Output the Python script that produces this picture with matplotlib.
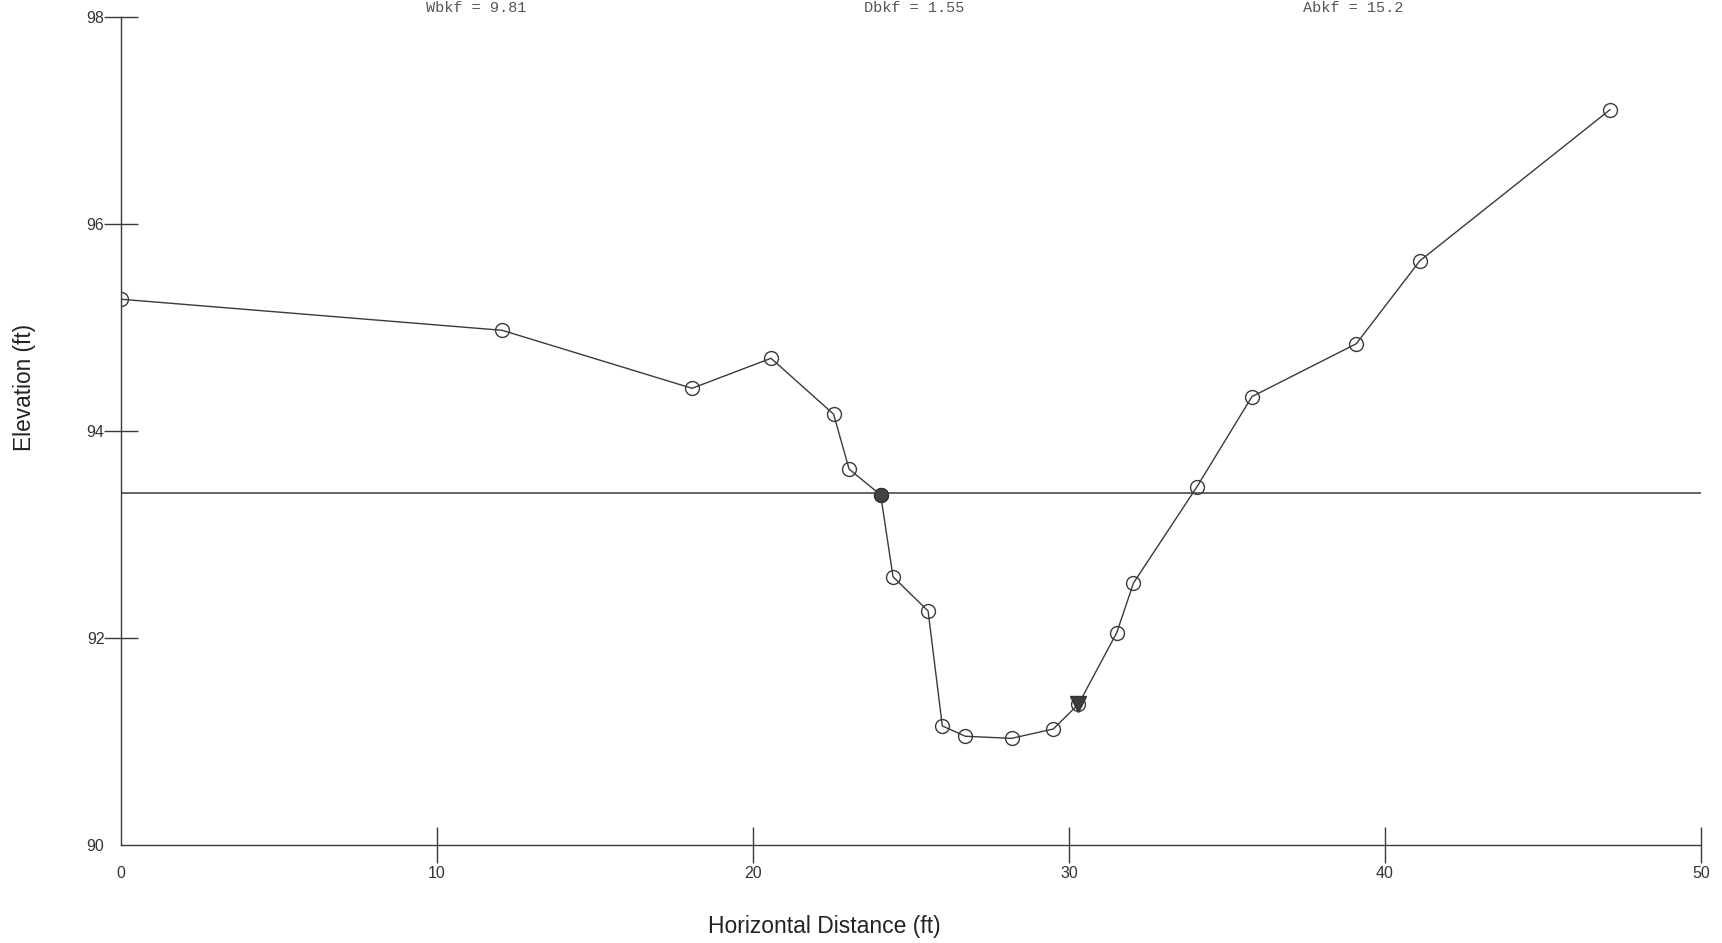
import matplotlib
matplotlib.use("Agg")
import matplotlib.pyplot as plt

# Cross-section survey data
station = [0.0, 12.06, 18.07, 20.57, 22.55, 23.04, 24.04, 24.43, 25.54, 25.99,
           26.72, 28.18, 29.50, 30.30, 31.51, 32.04, 34.05, 35.79, 39.09, 41.10, 47.12]
elevation = [95.27, 94.97, 94.41, 94.70, 94.16, 93.63, 93.38, 92.59, 92.26, 91.15,
             91.05, 91.03, 91.12, 91.36, 92.05, 92.53, 93.46, 94.33, 94.84, 95.64, 97.10]
bankfull_station = [24.04]
bankfull_point = [93.38]
water_station = [30.30]
water_point = [91.36]
bankfull_elev = 93.40
x_ticks = [0, 10, 20, 30, 40, 50]
y_ticks = [90, 92, 94, 96, 98]
summary = ["Wbkf = 9.81", "Dbkf = 1.55", "Abkf = 15.2"]
summary_x = [476, 914, 1353]

plt.rcParams['font.family'] = ['Liberation Sans', 'DejaVu Sans']

fig = plt.figure(figsize=(17.22, 9.43), dpi=100)
ax = fig.add_axes([0.0703, 0.1039, 0.9175, 0.8786])

col = '#3a3a3a'
ax.plot([0, 50], [bankfull_elev, bankfull_elev], color=col, lw=1.1, zorder=1)
ax.plot(station, elevation, color=col, lw=1.0, marker='o', markersize=10,
        markerfacecolor='none', markeredgecolor=col, markeredgewidth=1.0, zorder=2)
ax.plot(bankfull_station, bankfull_point, linestyle='none', marker='o', markersize=10,
        markerfacecolor='#444444', markeredgecolor='#333333', zorder=3)
ax.plot(water_station, water_point, linestyle='none', marker='v', markersize=11,
        markerfacecolor='#3c3c3c', markeredgecolor='#333333', zorder=4)

ax.set_xlim(0, 50)
ax.set_ylim(90, 98)
ax.set_xticks(x_ticks)
ax.set_yticks(y_ticks)
for s in ['top', 'right']:
    ax.spines[s].set_visible(False)
for s in ['left', 'bottom']:
    ax.spines[s].set_color(col)
    ax.spines[s].set_linewidth(1.0)

ax.tick_params(axis='x', direction='inout', length=26, width=1.0, color=col,
               labelsize=11.5, labelcolor='#333333', pad=2)
ax.tick_params(axis='y', direction='inout', length=24, width=1.0, color=col,
               labelsize=11.5, labelcolor='#333333', pad=0)
ax.xaxis.get_major_ticks()[0].tick1line.set_visible(False)
ax.yaxis.get_major_ticks()[0].tick1line.set_visible(False)

ax.set_xlabel("Horizontal Distance (ft)", fontsize=16.5, color='#222222', labelpad=24)
ax.xaxis.set_label_coords(0.445, -0.085)
ax.set_ylabel("Elevation (ft)", fontsize=16.3, color='#222222')
ax.yaxis.set_label_coords(-0.054, 0.552)

for t, px in zip(summary, summary_x):
    fig.text(px / 1722, 1 - 12 / 943, t, family=['Liberation Mono', 'DejaVu Sans Mono'],
             fontsize=11, color='#555555', ha='center', va='baseline')

fig.savefig("out.png", dpi=100)
